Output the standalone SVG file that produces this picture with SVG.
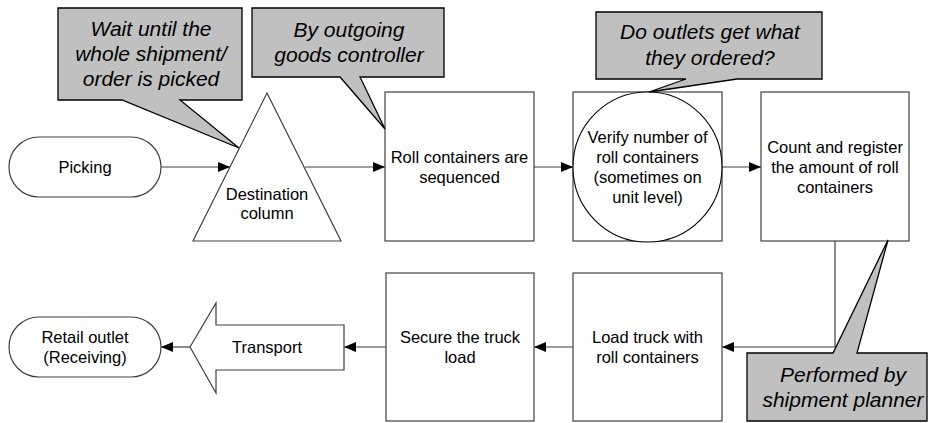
<svg xmlns="http://www.w3.org/2000/svg" width="935" height="423" viewBox="0 0 935 423">
<defs>
<style>
.box{fill:#fff;stroke:#404040;stroke-width:1.2}
.shape{fill:#fff;stroke:#000;stroke-width:1.1}
.call{fill:#c0c0c0;stroke:#000;stroke-width:1.3;stroke-linejoin:miter}
.t{font-family:"Liberation Sans",Arial,sans-serif;font-size:16.5px;fill:#000;text-anchor:middle}
.ct{font-family:"Liberation Sans",Arial,sans-serif;font-size:21px;font-style:italic;fill:#000;text-anchor:middle}
.conn{fill:none;stroke:#404040;stroke-width:1.2}
</style>
<marker id="ah" viewBox="0 0 12 10" refX="12" refY="5" markerWidth="12" markerHeight="10" markerUnits="userSpaceOnUse" orient="auto">
<path d="M0,0 L12,5 L0,10 Z" fill="#000"/>
</marker>
</defs>
<rect width="935" height="423" fill="#fff"/>

<g id="connectors">
<path class="conn" d="M161,167 H230" marker-end="url(#ah)"/>
<path class="conn" d="M305,167 H385" marker-end="url(#ah)"/>
<path class="conn" d="M534,167 H573" marker-end="url(#ah)"/>
<path class="conn" d="M722,167 H761" marker-end="url(#ah)"/>
<path class="conn" d="M835,241 V347 H722" marker-end="url(#ah)"/>
<path class="conn" d="M573,347 H534" marker-end="url(#ah)"/>
<path class="conn" d="M386,347 H344" marker-end="url(#ah)"/>
<path class="conn" d="M190,347 H161" marker-end="url(#ah)"/>
</g>

<g id="picking">
<rect class="box" x="9" y="137" width="152" height="60" rx="30" ry="30"/>
<text class="t" x="85" y="173">Picking</text>
</g>

<g id="destination-column">
<polygon class="box" points="267,93 341,241 193,241"/>
<text class="t" x="267" y="200">Destination</text>
<text class="t" x="267" y="219">column</text>
</g>

<g id="roll-sequenced">
<rect class="box" x="385" y="92" width="149" height="149"/>
<text class="t" x="459.5" y="163">Roll containers are</text>
<text class="t" x="459.5" y="183">sequenced</text>
</g>

<g id="verify">
<rect class="box" x="573" y="92" width="149" height="149"/>
<ellipse class="shape" cx="647.5" cy="167" rx="74.5" ry="75"/>
<text class="t" x="647.5" y="143">Verify number of</text>
<text class="t" x="647.5" y="163">roll containers</text>
<text class="t" x="647.5" y="183">(sometimes on</text>
<text class="t" x="647.5" y="203">unit level)</text>
</g>

<g id="count-register">
<rect class="box" x="761" y="92" width="148" height="149"/>
<text class="t" x="835" y="153">Count and register</text>
<text class="t" x="835" y="173">the amount of roll</text>
<text class="t" x="835" y="193">containers</text>
</g>

<g id="load-truck">
<rect class="box" x="573" y="273" width="149" height="148"/>
<text class="t" x="647.5" y="343">Load truck with</text>
<text class="t" x="647.5" y="363">roll containers</text>
</g>

<g id="secure-load">
<rect class="box" x="386" y="273" width="148" height="148"/>
<text class="t" x="460" y="343">Secure the truck</text>
<text class="t" x="460" y="363">load</text>
</g>

<g id="transport">
<polygon class="box" points="344,325 344,370 216,370 216,393 190,347 216,303 216,325"/>
<text class="t" x="267" y="353">Transport</text>
</g>

<g id="retail-outlet">
<rect class="box" x="9" y="317" width="152" height="60" rx="30" ry="30"/>
<text class="t" x="85" y="343">Retail outlet</text>
<text class="t" x="85" y="363">(Receiving)</text>
</g>

<g id="callout-wait">
<path class="call" d="M58,8 H242 V100 H180 L239,148 L122,100 H58 Z"/>
<text class="ct" x="151" y="36">Wait until the</text>
<text class="ct" x="151" y="61">whole shipment/</text>
<text class="ct" x="151" y="86">order is picked</text>
</g>

<g id="callout-controller">
<path class="call" d="M252,8 H444 V77 H360 L385,129 L340,77 H252 Z"/>
<text class="ct" x="349" y="37">By outgoing</text>
<text class="ct" x="349" y="62">goods controller</text>
</g>

<g id="callout-outlets">
<path class="call" d="M596,12 H822 V79 H737 L649,92 L686,79 H596 Z"/>
<text class="ct" x="710" y="39">Do outlets get what</text>
<text class="ct" x="710" y="65">they ordered?</text>
</g>

<g id="callout-planner">
<path class="call" d="M747,353 H833 L888,240 L857,353 H927 V421 H747 Z"/>
<text class="ct" x="843" y="382">Performed by</text>
<text class="ct" x="843" y="407">shipment planner</text>
</g>
</svg>
